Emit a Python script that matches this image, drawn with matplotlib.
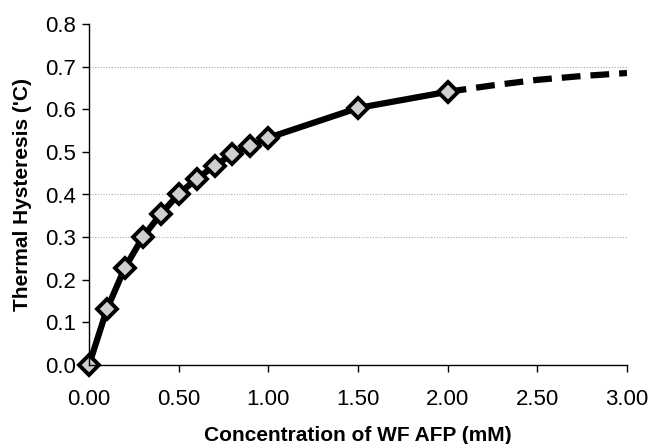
import matplotlib
matplotlib.use('Agg')
import matplotlib.pyplot as plt

plt.rcParams['font.family'] = ['Liberation Sans', 'DejaVu Sans']

# measured points (mM, degrees C)
conc = [0.0, 0.1, 0.2, 0.3, 0.4, 0.5, 0.6, 0.7, 0.8, 0.9, 1.0, 1.5, 2.0]
hyst = [0.0, 0.131, 0.228, 0.300, 0.354, 0.401, 0.437, 0.467, 0.495, 0.514, 0.533, 0.603, 0.641]

# dashed extrapolation
ext_conc = [2.0, 2.25, 2.5, 2.75, 3.0]
ext_hyst = [0.641, 0.656, 0.669, 0.678, 0.685]

grid_levels = [0.3, 0.4, 0.7]
xticks = [0.0, 0.5, 1.0, 1.5, 2.0, 2.5, 3.0]
yticks = [0.0, 0.1, 0.2, 0.3, 0.4, 0.5, 0.6, 0.7, 0.8]

fig = plt.figure(figsize=(6.53, 4.44), dpi=100)
ax = fig.add_axes([89 / 653, 1 - 365 / 444, (627 - 89) / 653, (365 - 24) / 444])

for g in grid_levels:
    ax.axhline(g, color='#a8a8a8', lw=0.8, ls=(0, (1, 1.5)), zorder=1)

ax.plot(ext_conc, ext_hyst, color='black', lw=4.5, ls=(0, (3.0, 1.6)), zorder=2)
ax.plot(conc, hyst, color='black', lw=4.5, marker='D', ms=10,
        mfc='#cfcfcf', mec='black', mew=2.8, zorder=3, clip_on=False)

ax.set_xlim(0, 3.0)
ax.set_ylim(0, 0.8)
ax.set_xticks(xticks)
ax.set_xticklabels(['%.2f' % v for v in xticks])
ax.set_yticks(yticks)
ax.set_yticklabels(['%.1f' % v for v in yticks])
ax.tick_params(direction='out', length=5, width=1, labelsize=16, pad=4)
ax.tick_params(axis='x', pad=12)
ax.spines['top'].set_visible(False)
ax.spines['right'].set_visible(False)
for s in ['left', 'bottom']:
    ax.spines[s].set_linewidth(1.0)
    ax.spines[s].set_zorder(4)

ax.set_xlabel('Concentration of WF AFP (mM)', fontsize=15, fontweight='bold', labelpad=12)
ax.set_ylabel('Thermal Hysteresis (\'C)', fontsize=15, fontweight='bold', labelpad=10)

fig.savefig('out.png', dpi=100)
